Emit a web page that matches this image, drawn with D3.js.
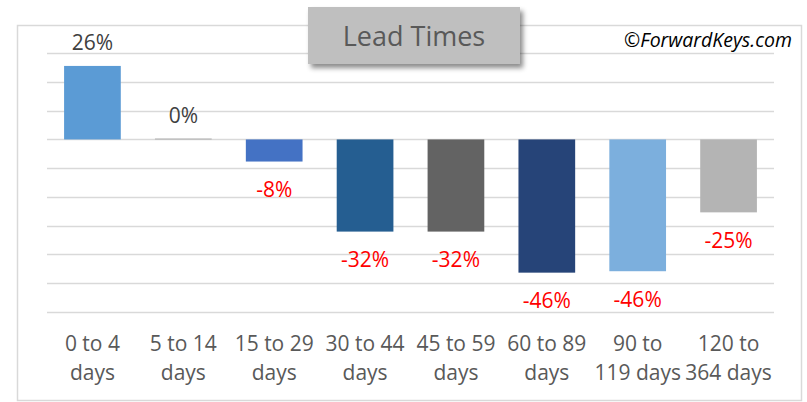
<!DOCTYPE html>
<html>
<head>
<meta charset="utf-8">
<script src="https://cdn.jsdelivr.net/npm/d3@7"></script>
<style>
  body { margin: 0; background: #fff; }
  text { font-family: "Open Sans", sans-serif; }
</style>
</head>
<body>
<div id="chart"></div>
<script>
// data
var categories = [["0 to 4", "days"], ["5 to 14", "days"], ["15 to 29", "days"], ["30 to 44", "days"],
                  ["45 to 59", "days"], ["60 to 89", "days"], ["90 to", "119 days"], ["120 to", "364 days"]];
var values = [25.6, 0.3, -7.7, -32.1, -32.1, -46.4, -45.9, -25.4];
var labels = ["26%", "0%", "-8%", "-32%", "-32%", "-46%", "-46%", "-25%"];
var barColors = ["#5b9bd5", "#a5a5a5", "#4472c4", "#255e91", "#636363", "#264478", "#7cafdd", "#b4b4b4"];
var gridTicks = [30, 20, 10, 0, -10, -20, -30, -40, -50, -60];

var W = 807, H = 402;
var svg = d3.select("#chart").append("svg")
    .attr("width", W)
    .attr("height", H);

var defs = svg.append("defs");
var f = defs.append("filter").attr("id", "shadow")
    .attr("x", "-10%").attr("y", "-20%").attr("width", "130%").attr("height", "160%");
f.append("feDropShadow")
    .attr("dx", 3).attr("dy", 4).attr("stdDeviation", 2.5)
    .attr("flood-color", "#000").attr("flood-opacity", 0.45);

// chart frame
svg.append("rect")
    .attr("x", 17.5).attr("y", 25.5)
    .attr("width", 784).attr("height", 375)
    .attr("fill", "#fff")
    .attr("stroke", "#d9d9d9")
    .attr("stroke-width", 1.5);

var x = d3.scaleBand()
    .domain(d3.range(categories.length))
    .range([47, 774])
    .paddingInner(0.376)
    .paddingOuter(0.188);

var y = d3.scaleLinear()
    .domain([30, -60])
    .range([53.3, 311.7]);

// gridlines
svg.append("g")
  .selectAll("line")
  .data(gridTicks)
  .enter()
  .append("line")
    .attr("x1", 47).attr("x2", 774)
    .attr("y1", function(d) { return Math.round(y(d)) + 0.5; })
    .attr("y2", function(d) { return Math.round(y(d)) + 0.5; })
    .style("stroke", "#d9d9d9")
    .style("stroke-width", 1.5);

// bars
svg.append("g")
  .selectAll("rect")
  .data(values)
  .enter()
  .append("rect")
    .attr("x", function(d, i) { return x(i); })
    .attr("width", x.bandwidth())
    .attr("y", function(d) { return y(Math.max(0, d)); })
    .attr("height", function(d) { return Math.abs(y(d) - y(0)); })
    .attr("fill", function(d, i) { return barColors[i]; });

// value labels
svg.append("g")
  .selectAll("text")
  .data(values)
  .enter()
  .append("text")
    .attr("x", function(d, i) { return x(i) + x.bandwidth() / 2; })
    .attr("y", function(d) { return d >= 0 ? y(d) - 15.5 : y(d) + 35.5; })
    .attr("text-anchor", "middle")
    .style("font-size", "21px")
    .style("fill", function(d) { return d >= 0 ? "#404040" : "#ff0000"; })
    .text(function(d, i) { return labels[i]; });

// category labels
var cat = svg.append("g")
  .selectAll("text")
  .data(categories)
  .enter()
  .append("text")
    .attr("text-anchor", "middle")
    .style("font-size", "21px")
    .style("fill", "#595959");
cat.selectAll("tspan")
  .data(function(d, i) { return d.map(function(s) { return {s: s, i: i}; }); })
  .enter()
  .append("tspan")
    .attr("x", function(d) { return x(d.i) + x.bandwidth() / 2; })
    .attr("y", function(d, j) { return 350.5 + j * 29; })
    .text(function(d) { return d.s; });

// title box
svg.append("rect")
    .attr("x", 308).attr("y", 7)
    .attr("width", 212).attr("height", 57)
    .attr("fill", "#bfbfbf")
    .attr("filter", "url(#shadow)");
svg.append("text")
    .attr("x", 414).attr("y", 46)
    .attr("text-anchor", "middle")
    .style("font-size", "27px")
    .style("fill", "#595959")
    .text("Lead Times");

// copyright
svg.append("text")
    .attr("x", 792).attr("y", 47)
    .attr("text-anchor", "end")
    .style("font-size", "19.5px")
    .style("font-style", "italic")
    .style("fill", "#000")
    .text("©ForwardKeys.com");
</script>
</body>
</html>
